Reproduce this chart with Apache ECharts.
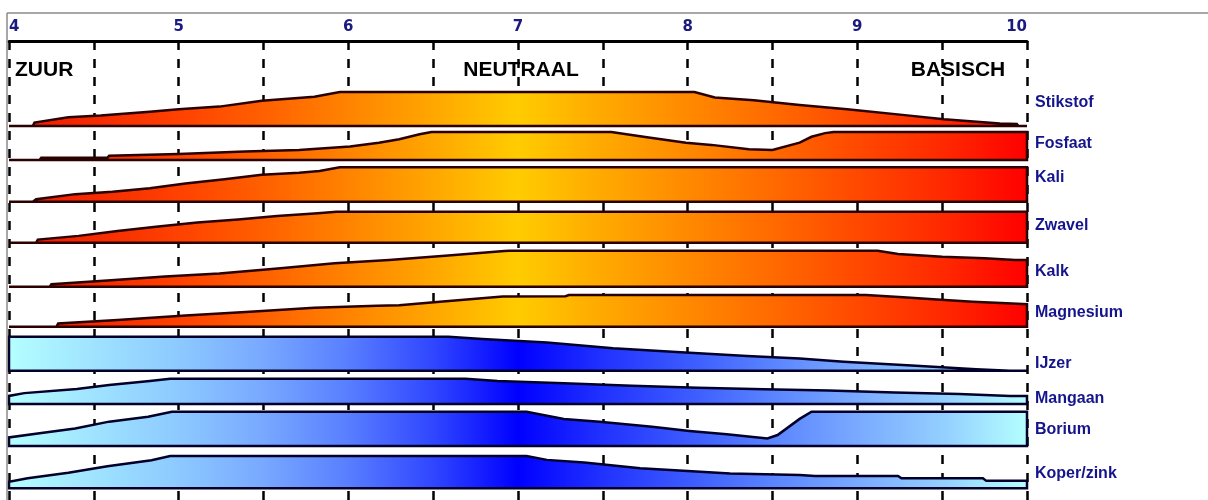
<!DOCTYPE html>
<html><head><meta charset="utf-8">
<script src="https://cdn.jsdelivr.net/npm/echarts@6/dist/echarts.min.js"></script>
<style>html,body{margin:0;padding:0;background:#fff}#c{width:1208px;height:500px}</style>
</head><body><div id="c"></div>
<script>
// ---- data: [pH, relative availability 0..1] ----
const nutrients = ['Stikstof','Fosfaat','Kali','Zwavel','Kalk','Magnesium','IJzer','Mangaan','Borium','Koper/zink'];
const zones = ['ZUUR','NEUTRAAL','BASISCH'];
const phMin = 4, phMax = 10;

const stikstof = [[4,0],[4.14,0],[4.15,0.1],[4.35,0.26],[4.54,0.31],[4.83,0.42],[5.0,0.49],[5.24,0.57],[5.49,0.74],[5.8,0.86],[5.95,1],[8.04,1],[8.16,0.84],[8.39,0.76],[8.66,0.62],[8.94,0.49],[9.28,0.32],[9.51,0.2],[9.84,0.07],[9.94,0.06],[9.95,0],[10,0]];
const fosfaat = [[4,0],[4.18,0],[4.19,0.08],[4.58,0.08],[4.59,0.15],[5.0,0.21],[5.39,0.3],[5.71,0.36],[6.01,0.48],[6.18,0.62],[6.3,0.74],[6.42,0.92],[6.49,1],[7.55,1],[7.76,0.81],[7.99,0.62],[8.14,0.54],[8.36,0.38],[8.5,0.36],[8.66,0.62],[8.73,0.83],[8.81,0.96],[8.86,1],[10,1]];
const kali = [[4,0],[4.14,0],[4.16,0.07],[4.39,0.22],[4.61,0.29],[4.83,0.39],[5.04,0.53],[5.27,0.65],[5.49,0.78],[5.71,0.84],[5.83,0.89],[5.95,1],[10,1]];
const zwavel = [[4,0],[4.16,0],[4.17,0.1],[4.41,0.22],[4.64,0.38],[4.88,0.52],[5.11,0.65],[5.35,0.75],[5.58,0.86],[5.82,0.95],[5.93,1],[10,1]];
const kalk = [[4,0],[4.24,0],[4.25,0.07],[4.58,0.17],[4.92,0.28],[5.24,0.37],[5.6,0.51],[5.92,0.65],[6.24,0.74],[6.57,0.86],[6.92,0.99],[6.95,1],[9.12,1],[9.24,0.91],[9.5,0.83],[9.75,0.79],[9.93,0.74],[10,0.74]];
const magnesium = [[4,0],[4.28,0],[4.29,0.1],[4.64,0.21],[5.04,0.35],[5.42,0.47],[5.8,0.6],[6.17,0.66],[6.3,0.68],[6.54,0.79],[6.91,0.95],[7.28,0.96],[7.3,1],[9.05,1],[9.27,0.93],[9.47,0.86],[9.68,0.79],[9.88,0.74],[10,0.71]];
const ijzer = [[4,1],[6.59,1],[6.79,0.93],[7.17,0.83],[7.56,0.66],[7.96,0.54],[8.35,0.43],[8.66,0.36],[8.92,0.26],[9.32,0.15],[9.7,0.04],[9.9,0],[10,0]];
const mangaan = [[4,0.32],[4.09,0.43],[4.4,0.59],[4.59,0.75],[4.83,0.91],[4.95,1],[6.69,1],[6.88,0.91],[7.27,0.82],[7.67,0.72],[8.06,0.64],[8.45,0.58],[8.83,0.53],[9.22,0.45],[9.6,0.4],[9.9,0.32],[10,0.32]];
const borium = [[4,0.25],[4.18,0.37],[4.39,0.51],[4.59,0.71],[4.82,0.85],[4.96,1],[7.05,1],[7.27,0.79],[7.48,0.71],[7.79,0.56],[8.01,0.44],[8.23,0.34],[8.47,0.22],[8.53,0.32],[8.66,0.79],[8.73,1],[10,1]];
const koperzink = [[4,0.2],[4.11,0.31],[4.35,0.48],[4.58,0.68],[4.84,0.87],[4.95,1],[7.05,1],[7.17,0.88],[7.39,0.8],[7.72,0.62],[7.95,0.55],[8.25,0.46],[8.66,0.41],[8.75,0.38],[9.24,0.38],[9.26,0.31],[9.74,0.31],[9.76,0.23],[10,0.23]];

const values = [stikstof, fosfaat, kali, zwavel, kalk, magnesium, ijzer, mangaan, borium, koperzink];
const tones = ['warm','warm','warm','warm','warm','warm','cool','cool','cool','cool'];

// ---- layout (y axis units = px below plot top) ----
const bandBase   = [85, 119, 160.7, 201.7, 245.7, 285.7, 329.7, 363, 405, 447.3];
const bandHeight = [34, 28, 34.4, 31, 36, 31.7, 34, 25.3, 34.3, 32.3];
const labelY     = [62, 103, 137, 185, 231, 272, 323, 358, 389, 433];

const warmStops = [
  {offset:0,color:'#f01800'},{offset:0.08,color:'#f52a00'},{offset:0.17,color:'#ff4200'},
  {offset:0.25,color:'#ff6000'},{offset:0.33,color:'#ff8200'},{offset:0.42,color:'#ffa800'},
  {offset:0.5,color:'#ffcc00'},{offset:0.58,color:'#ffaa00'},{offset:0.67,color:'#ff8800'},
  {offset:0.75,color:'#ff6a00'},{offset:0.83,color:'#ff4a00'},{offset:0.92,color:'#ff2800'},
  {offset:1,color:'#ff0000'}];
const coolStops = [
  {offset:0,color:'#b4ffff'},{offset:0.08,color:'#a0e4ff'},{offset:0.17,color:'#8cc8ff'},
  {offset:0.25,color:'#78a8ff'},{offset:0.33,color:'#5a80ff'},{offset:0.42,color:'#2e44ff'},
  {offset:0.5,color:'#0000ff'},{offset:0.58,color:'#2030ff'},{offset:0.67,color:'#3c5cff'},
  {offset:0.75,color:'#5a84ff'},{offset:0.83,color:'#78a8ff'},{offset:0.92,color:'#94d0ff'},
  {offset:1,color:'#b4ffff'}];

function renderItem(params, api) {
  const i = api.value(0);
  const pts = values[i];
  const base = bandBase[i], h = bandHeight[i];
  const poly = [api.coord([pts[0][0], base])];
  pts.forEach(p => poly.push(api.coord([p[0], base - p[1] * h])));
  poly.push(api.coord([pts[pts.length - 1][0], base]));
  const x0 = api.coord([phMin, 0])[0], x1 = api.coord([phMax, 0])[0];
  const warm = tones[i] === 'warm';
  const grad = new echarts.graphic.LinearGradient(x0, 0, x1, 0, warm ? warmStops : coolStops, true);
  const lab = api.coord([phMax, labelY[i]]);
  return {type:'group', children:[
    {type:'polygon', shape:{points:poly},
     style:{fill:grad, stroke: warm ? '#2a0000' : '#00002a', lineWidth:2.5, lineJoin:'miter'}},
    {type:'text', x: lab[0] + 8, y: lab[1],
     style:{text: nutrients[i], fill:'#14148c', font:'bold 16px "Liberation Sans", Arial, sans-serif',
            align:'left', verticalAlign:'middle'}}
  ]};
}

const chart = echarts.init(document.getElementById('c'), null, {renderer:'canvas'});
chart.setOption({
  animation:false,
  grid:{left:9, right:181, top:41, bottom:0},
  xAxis:{type:'value', min:phMin, max:phMax, interval:0.5, position:'top',
    axisLine:{show:true, lineStyle:{color:'#000', width:3}},
    axisTick:{show:false},
    axisLabel:{formatter: v => Number.isInteger(v) ? String(v) : '', color:'#1a1a80',
      fontWeight:'bold', fontSize:15, fontFamily:'DejaVu Sans', margin:6,
      alignMinLabel:'left', alignMaxLabel:'right'},
    splitLine:{show:true, showMinLine:true, showMaxLine:true, lineStyle:{color:'#000', width:2.5, type:[9,9]}}},
  yAxis:{type:'value', min:0, max:459, inverse:true, show:false, splitLine:{show:false}},
  graphic:[
    {type:'line', shape:{x1:7, y1:13, x2:1208, y2:13}, style:{stroke:'#8a8a8a', lineWidth:1.5}, z:10},
    {type:'line', shape:{x1:7, y1:13, x2:7, y2:500}, style:{stroke:'#8a8a8a', lineWidth:1.5}, z:10},
    {type:'text', x:15, y:70, style:{text:zones[0], fill:'#000', font:'bold 21px "Liberation Sans", Arial, sans-serif', verticalAlign:'middle', align:'left'}, z:10},
    {type:'text', x:521, y:70, style:{text:zones[1], fill:'#000', font:'bold 21px "Liberation Sans", Arial, sans-serif', verticalAlign:'middle', align:'center'}, z:10},
    {type:'text', x:958, y:70, style:{text:zones[2], fill:'#000', font:'bold 21px "Liberation Sans", Arial, sans-serif', verticalAlign:'middle', align:'center'}, z:10}
  ],
  series:[{type:'custom', clip:false, renderItem: renderItem, data: nutrients.map((n, i) => [i])}]
});
</script>
</body></html>
